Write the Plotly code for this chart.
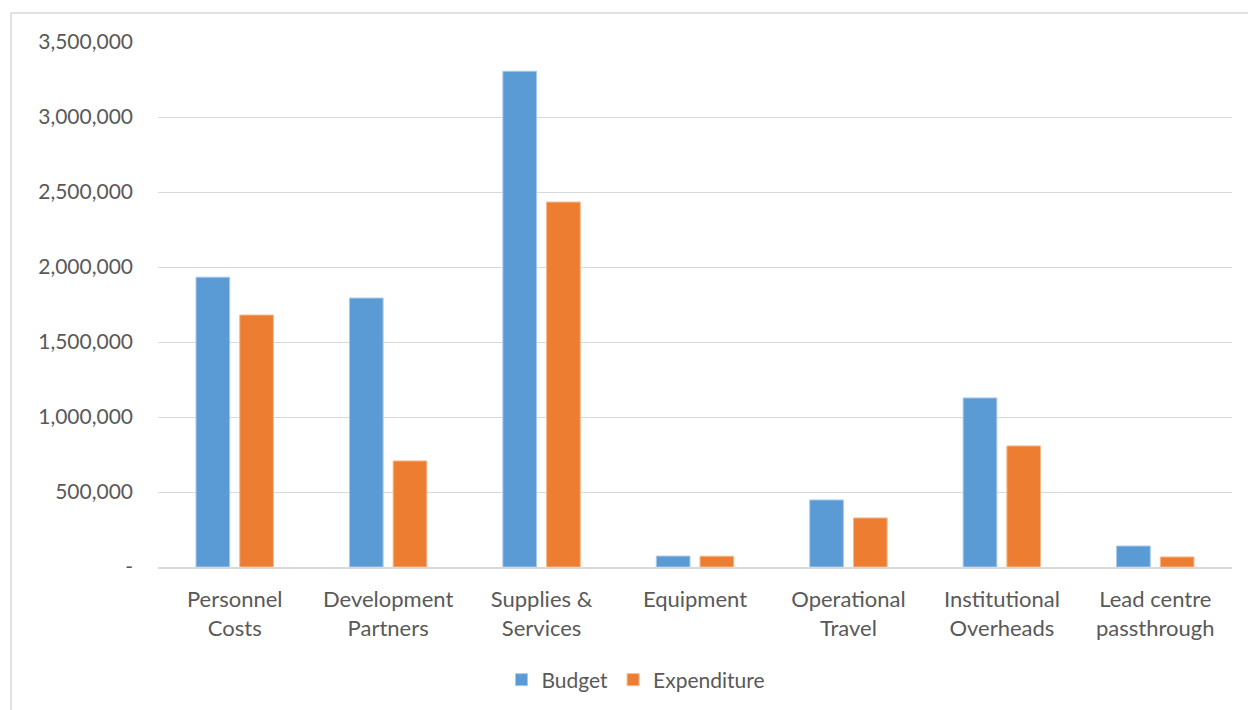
import plotly.graph_objects as go

categories = ["Personnel<br>Costs", "Development<br>Partners", "Supplies &<br>Services",
              "Equipment", "Operational<br>Travel", "Institutional<br>Overheads",
              "Lead centre<br>passthrough"]
budget = [1932000, 1793000, 3305000, 73000, 447000, 1127000, 140000]
expenditure = [1680000, 707000, 2433000, 72000, 327000, 807000, 67000]
tick_vals = [0, 500000, 1000000, 1500000, 2000000, 2500000, 3000000, 3500000]
tick_text = ["-", "500,000", "1,000,000", "1,500,000", "2,000,000", "2,500,000",
             "3,000,000", "3,500,000"]

FONT = "Lato"
GREY = "#595959"

fig = go.Figure()
fig.add_trace(go.Bar(name="Budget", x=categories, y=budget,
                     marker=dict(color="#5b9bd5", line=dict(color="#a9c8e8", width=1))))
fig.add_trace(go.Bar(name="Expenditure", x=categories, y=expenditure,
                     marker=dict(color="#ed7d31", line=dict(color="#f4b88e", width=1))))

L, R, T, B = 158, 16, 42, 143
W, H = 1248, 710
pw = W - L - R
ph = H - T - B

def px(x):
    return (x - L) / pw

def py(y):
    return (H - B - y) / ph

fig.update_layout(
    width=W, height=H,
    margin=dict(l=L, r=R, t=T, b=B, autoexpand=False),
    paper_bgcolor="white", plot_bgcolor="white",
    barmode="group", bargap=0.43, bargroupgap=0.23,
    font=dict(family=FONT, size=21, color=GREY),
    showlegend=True,
    legend=dict(orientation="h", x=px(636), xanchor="center", y=py(680), yanchor="middle",
                font=dict(family=FONT, size=21, color=GREY), itemwidth=30,
                traceorder="normal"),
    xaxis=dict(showgrid=False, showline=True, linecolor="#d9d9d9", linewidth=1.5,
               ticks="outside", ticklen=12, tickcolor="rgba(0,0,0,0)", automargin=False,
               tickfont=dict(family=FONT, size=22, color=GREY)),
    yaxis=dict(range=[0, 3500000], tickvals=tick_vals, ticktext=tick_text,
               showgrid=True, gridcolor="#d9d9d9", gridwidth=1, zeroline=False,
               showline=False, ticklabelstandoff=24, automargin=False,
               tickfont=dict(family=FONT, size=21, color=GREY)),
    shapes=[dict(type="rect", xref="paper", yref="paper",
                 x0=px(11), x1=px(1262), y0=py(722), y1=py(13),
                 line=dict(color="#d9d9d9", width=1.5), fillcolor="rgba(0,0,0,0)",
                 layer="below")],
)

fig.write_html("out.html")
